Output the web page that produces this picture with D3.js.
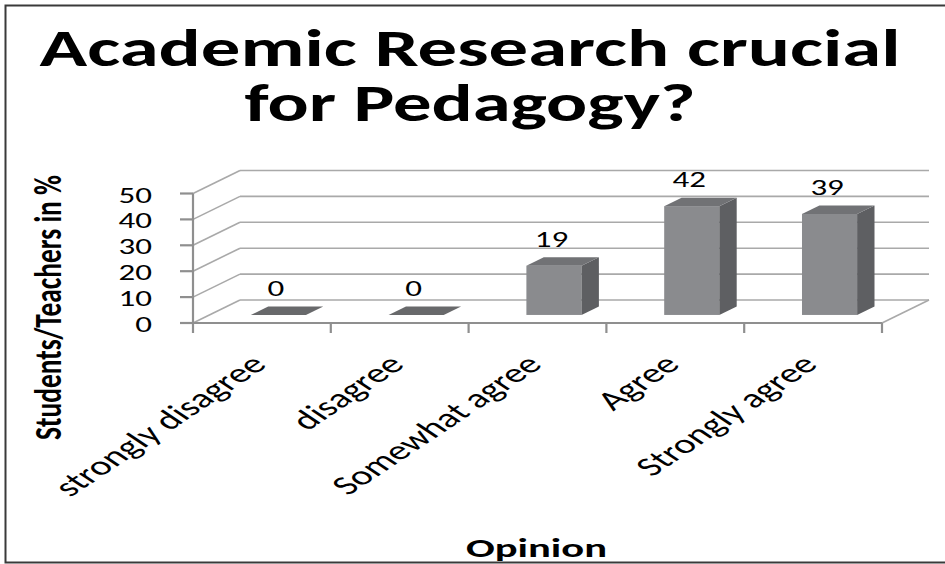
<!DOCTYPE html>
<html>
<head>
<meta charset="utf-8">
<script src="https://cdn.jsdelivr.net/npm/d3@7"></script>
<style>
  html, body { margin: 0; padding: 0; background: #fff; }
  svg { display: block; }
</style>
</head>
<body>
<div id="chart"></div>
<script>
const titleLines = ["Academic Research crucial", "for Pedagogy?"];
const categories = ["strongly disagree", "disagree", "Somewhat agree", "Agree", "Strongly agree"];
const values = [0, 0, 19, 42, 39];
const yTicks = [0, 10, 20, 30, 40, 50];
const yTitle = "Students/Teachers in %";
const xTitle = "Opinion";

const W = 945, H = 564;
const SX = 1.5; // the picture is stretched sideways
const font = "Carlito, Calibri, Lato, sans-serif";

// front plane of the plot and the depth of the 3D box
const plot = { left: 193, right: 882, floor: 323, height: 129.5 };
const depth = { dx: 47, dy: 23 };
const barDepth = [0.35, 0.72];
const barWidthRatio = 0.4;

const colors = {
  grid: "#a9a9a9",
  axis: "#8f8f8f",
  front: "#8a8b8e",
  side: "#5e5f62",
  top: "#717275",
  text: "#000",
};

const svg = d3.select("#chart").append("svg")
  .attr("width", W)
  .attr("height", H);

svg.append("rect").attr("width", W).attr("height", H).attr("fill", "#fff");

// cadre
svg.append("path")
  .attr("d", `M${W},5.5 H5.5 V562.5 H${W}`)
  .attr("fill", "none")
  .attr("stroke", "#3a3a3a")
  .attr("stroke-width", 2);

const x = d3.scaleBand().domain(categories).range([plot.left, plot.right]);
const y = d3.scaleLinear().domain([0, 50]).range([0, plot.height]);

// offset of a point lying at a given depth fraction
const off = (f) => [depth.dx * f, -depth.dy * f];

// stretched text helper
const addText = (g, str, tx, ty, opts = {}) => {
  const t = g.append("text")
    .attr("transform", `translate(${tx},${ty}) scale(${SX},1)` + (opts.rotate ? ` rotate(${opts.rotate})` : ""))
    .attr("text-anchor", opts.anchor || "middle")
    .style("font-family", font)
    .style("font-size", `${opts.size || 22}px`)
    .style("font-weight", opts.weight || "normal")
    .attr("fill", colors.text)
    .text(str);
  if (opts.length) t.attr("textLength", opts.length).attr("lengthAdjust", "spacingAndGlyphs");
  return t;
};

// Titre
titleLines.forEach((line, i) => {
  addText(svg, line, 470, 66 + i * 55, {
    size: 52, weight: "bold", length: (i === 0 ? 861 : 451) / SX,
  });
});

// Murs et grille
const grid = svg.append("g")
  .attr("fill", "none")
  .attr("stroke", colors.grid)
  .attr("stroke-width", 1.6);

const [bdx, bdy] = off(1);
yTicks.forEach((t) => {
  const yf = plot.floor - y(t);
  // left wall diagonal
  grid.append("line")
    .attr("x1", plot.left).attr("y1", yf)
    .attr("x2", plot.left + bdx).attr("y2", yf + bdy);
  // back wall gridline
  grid.append("line")
    .attr("x1", plot.left + bdx).attr("y1", yf + bdy)
    .attr("x2", plot.right + bdx).attr("y2", yf + bdy);
});
// floor right edge
grid.append("line")
  .attr("x1", plot.right).attr("y1", plot.floor)
  .attr("x2", plot.right + bdx).attr("y2", plot.floor + bdy);

// Axes
const axes = svg.append("g")
  .attr("stroke", colors.axis)
  .attr("stroke-width", 2.2)
  .attr("fill", "none");

axes.append("line")
  .attr("x1", plot.left).attr("y1", plot.floor - y(50))
  .attr("x2", plot.left).attr("y2", plot.floor + 10);
axes.append("line")
  .attr("x1", plot.left).attr("y1", plot.floor)
  .attr("x2", plot.right).attr("y2", plot.floor);

yTicks.forEach((t) => {
  axes.append("line")
    .attr("x1", plot.left - 13).attr("y1", plot.floor - y(t))
    .attr("x2", plot.left).attr("y2", plot.floor - y(t));
});
categories.forEach((c) => {
  const xe = x(c) + x.bandwidth();
  axes.append("line")
    .attr("x1", xe).attr("y1", plot.floor)
    .attr("x2", xe).attr("y2", plot.floor + 10);
});

// Libellés de l'axe Y
yTicks.forEach((t) => {
  addText(svg, t, 152, plot.floor - y(t) + 9, { anchor: "end", size: 22 });
});

// Barres
const [f0x, f0y] = off(barDepth[0]);
const [sdx, sdy] = off(barDepth[1] - barDepth[0]);
const base = plot.floor + f0y;
const bw = x.bandwidth() * barWidthRatio;

const bars = svg.append("g");
categories.forEach((c, i) => {
  const v = values[i];
  const cx = x(c) + x.bandwidth() / 2 + f0x;
  const x0 = cx - bw / 2, x1 = cx + bw / 2;
  const h = y(v);
  const yt = base - h;
  const g = bars.append("g");
  if (h > 0) {
    g.append("rect")
      .attr("x", x0).attr("y", yt)
      .attr("width", bw).attr("height", h)
      .attr("fill", colors.front);
    g.append("path")
      .attr("d", `M${x1},${base} L${x1 + sdx},${base + sdy} L${x1 + sdx},${yt + sdy} L${x1},${yt} Z`)
      .attr("fill", colors.side);
  }
  g.append("path")
    .attr("d", `M${x0},${yt} L${x1},${yt} L${x1 + sdx},${yt + sdy} L${x0 + sdx},${yt + sdy} Z`)
    .attr("fill", h > 0 ? colors.top : "#68696b");

  // valeur
  addText(svg, v, x(c) + x.bandwidth() / 2 + 14, yt - 19, { size: 22 });
});

// Libellés des catégories
categories.forEach((c) => {
  addText(svg, c, x(c) + x.bandwidth() / 2 + 6, 366, { anchor: "end", size: 27, rotate: -45 })
    .style("font-weight", 300);
});

// Titres des axes
addText(svg, yTitle, 61, 307.5, { size: 26, weight: "bold", rotate: -90, length: 265 });
addText(svg, xTitle, 536.5, 557, { size: 26, weight: "bold", length: 141 / SX });
</script>
</body>
</html>
